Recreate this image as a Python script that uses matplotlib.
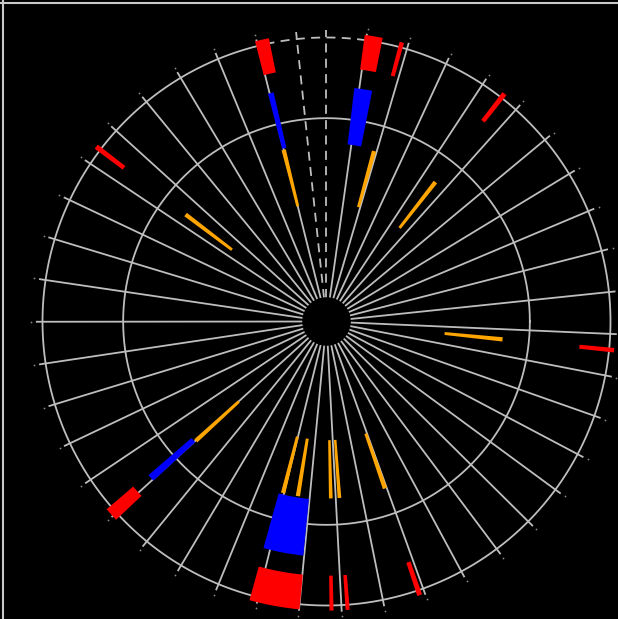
import numpy as np
import matplotlib
matplotlib.use("Agg")
import matplotlib.pyplot as plt
from matplotlib.lines import Line2D

# ---- data (angles in degrees, counter-clockwise from east) ----
orange_theta = [104.0, 74.4, 52.0, 142.8, 354.2, 222.4, 255.8, 260.7, 271.4, 274.2, 289.3]
orange_width = [1.4, 1.4, 1.4, 1.4, 1.4, 1.4, 1.4, 1.4, 1.2, 1.2, 1.4]

blue_theta = [103.7, 81.0, 221.7, 259.4]
blue_width = [1.4, 4.4, 1.8, 9.9]

red_theta = [102.9, 80.6, 74.9, 52.0, 142.8, 354.3, 221.9, 259.6, 271.0, 274.2, 288.8]
red_width = [2.8, 3.6, 0.9, 1.0, 1.0, 0.9, 2.8, 10.1, 0.8, 0.8, 1.0]

# ring extents (fraction of outer circle radius)
orange_ring = (0.418, 0.623)
blue_ring = (0.628, 0.828)
red_ring = (0.895, 1.018)

# grid
spoke_start, spoke_step, n_spokes = 104.0, 8.45, 41
dashed_spokes = [90.0, 96.0]
inner_circle_r = 0.716
hole_r = 0.083

GREY = "#BEBEBE"
rmax = 1.06

W, H = 618, 619
fig = plt.figure(figsize=(W / 100, H / 100), dpi=100, facecolor="black")
R_px = 284.0
cx, cy = 326.5, 619 - 321.5
half = R_px * rmax
ax = fig.add_axes([(cx - half) / W, (cy - half) / H, 2 * half / W, 2 * half / H],
                  projection="polar")
ax.set_facecolor("black")
ax.set_ylim(0, rmax)
ax.set_xticks([])
ax.set_yticks([])
ax.grid(False)
ax.spines["polar"].set_visible(False)

rad = np.deg2rad

# spokes
spokes = [spoke_start + spoke_step * k for k in range(n_spokes)]
for a in spokes:
    ax.plot([rad(a), rad(a)], [hole_r, 1.02], color=GREY, lw=1.3, zorder=1)
    ax.plot([rad(a)], [1.04], "o", ms=1.3, color=GREY, alpha=0.7, zorder=1, mec="none")
for a in dashed_spokes:
    ax.plot([rad(a), rad(a)], [hole_r, 1.025], color=GREY, lw=1.3,
            dashes=(5, 3.5), zorder=1)

# circles
t = np.linspace(0, 2 * np.pi, 721)
ax.plot(t, np.full_like(t, inner_circle_r), color=GREY, lw=1.3, zorder=1)
t_solid = np.linspace(rad(spoke_start), rad(spokes[-1] ), 700)
ax.plot(t_solid, np.ones_like(t_solid), color=GREY, lw=1.3, zorder=1)
t_dash = np.linspace(rad(spokes[-1] - 360), rad(spoke_start), 60)
ax.plot(t_dash, np.ones_like(t_dash), color=GREY, lw=1.3, dashes=(5, 3.5), zorder=1)

# bars
def draw(thetas, widths, ring, color):
    ax.bar(rad(np.array(thetas)), ring[1] - ring[0], width=rad(np.array(widths)),
           bottom=ring[0], color=color, edgecolor="none", zorder=3)

draw(orange_theta, orange_width, orange_ring, "#FFA500")
draw(blue_theta, blue_width, blue_ring, "#0000FF")
draw(red_theta, red_width, red_ring, "#FF0000")

# central hole
th = np.linspace(0, 2 * np.pi, 200)
ax.fill(th, np.full_like(th, hole_r), color="black", zorder=4)

# thin frame lines at top and left
fig.add_artist(Line2D([0, 1], [1 - 3 / H, 1 - 3 / H], color="#C8C8C8", lw=1.5))
fig.add_artist(Line2D([3 / W, 3 / W], [0, 1], color="#C8C8C8", lw=1.5))

fig.savefig("out.png", dpi=100, facecolor="black")
